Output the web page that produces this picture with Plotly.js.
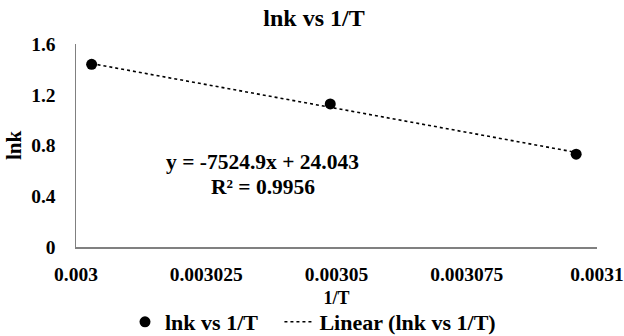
<!DOCTYPE html>
<html><head><meta charset="utf-8">
<script src="https://cdn.plot.ly/plotly-3.0.1.min.js"></script>
<style>html,body{margin:0;padding:0;background:#fff}#chart{width:624px;height:336px}</style>
</head><body><div id="chart"></div>
<script>
const invT = [0.0030030, 0.0030488, 0.0030960];
const lnk = [1.440, 1.128, 0.732];
const slope = -7524.9;
const intercept = 24.043;
const r2 = 0.9956;
const xTicks = [0.003, 0.003025, 0.00305, 0.003075, 0.0031];
const xTickText = ['0.003', '0.003025', '0.00305', '0.003075', '0.0031'];
const yTicks = [0, 0.4, 0.8, 1.2, 1.6];
const yTickText = ['0', '0.4', '0.8', '1.2', '1.6'];

const FONT = 'Liberation Serif, Times New Roman, serif';
const fitX = [invT[0], invT[invT.length - 1]];
const fitY = fitX.map(v => slope * v + intercept);

const data = [
  {x: invT, y: lnk, type: 'scatter', mode: 'markers', name: '<b>lnk vs 1/T</b>\u00a0\u00a0\u00a0',
   marker: {color: '#000', size: 11}},
  {x: fitX, y: fitY, type: 'scatter', mode: 'lines', name: '<b>Linear (lnk vs 1/T)</b>',
   line: {color: '#000', width: 1.6, dash: 'dot'}}
];
const L = 76, R = 597, T = 44, B = 247;
const pw = R - L, ph = B - T;
const layout = {
  width: 624, height: 336,
  margin: {l: L, r: 624 - R, t: T, b: 336 - B, autoexpand: false},
  paper_bgcolor: '#fff', plot_bgcolor: '#fff',
  font: {family: FONT, color: '#000', size: 19},
  title: {text: '<b>lnk vs 1/T</b>', font: {size: 24, family: FONT, color: '#000'},
          x: 314/624, xref: 'container', xanchor: 'center', y: 1 - 18/336, yref: 'container', yanchor: 'middle'},
  xaxis: {range: [0.003, 0.0031], tickvals: xTicks, ticktext: xTickText.map(t => '<b>' + t + '</b>'),
          showgrid: false, zeroline: false, showline: true, linecolor: '#808080', linewidth: 1.5,
          automargin: false,
          ticks: '', ticklabelstandoff: 9, tickfont: {size: 19.5, family: FONT, color: '#000'},
          title: {text: '<b>1/T</b>', font: {size: 18, family: FONT, color: '#000'}, standoff: 7}},
  yaxis: {range: [0, 1.6], tickvals: yTicks, ticktext: yTickText.map(t => '<b>' + t + '</b>'),
          showgrid: false, zeroline: false, showline: true, linecolor: '#808080', linewidth: 1.5,
          automargin: false,
          ticks: '', ticklabelstandoff: 15, tickfont: {size: 19.5, family: FONT, color: '#000'},
          title: {text: '<b>lnk</b>', font: {size: 21, family: FONT, color: '#000'}, standoff: 4}},
  showlegend: true,
  legend: {orientation: 'h', x: (125 - L)/pw, xanchor: 'left', y: (B - 322)/ph, yanchor: 'middle',
           font: {size: 22, family: FONT, color: '#000'}, bgcolor: 'rgba(0,0,0,0)'},
  annotations: [
    {text: '<b>y = -7524.9x + 24.043</b>', xref: 'paper', yref: 'paper', x: (262 - L)/pw, y: (B - 162)/ph,
     showarrow: false, font: {size: 21.5, family: FONT, color: '#000'}, xanchor: 'center', yanchor: 'middle'},
    {text: '<b>R² = ' + r2 + '</b>', xref: 'paper', yref: 'paper', x: (263 - L)/pw, y: (B - 187)/ph,
     showarrow: false, font: {size: 21.5, family: FONT, color: '#000'}, xanchor: 'center', yanchor: 'middle'}
  ]
};
Plotly.newPlot('chart', data, layout, {displayModeBar: false, staticPlot: true});
</script></body></html>
